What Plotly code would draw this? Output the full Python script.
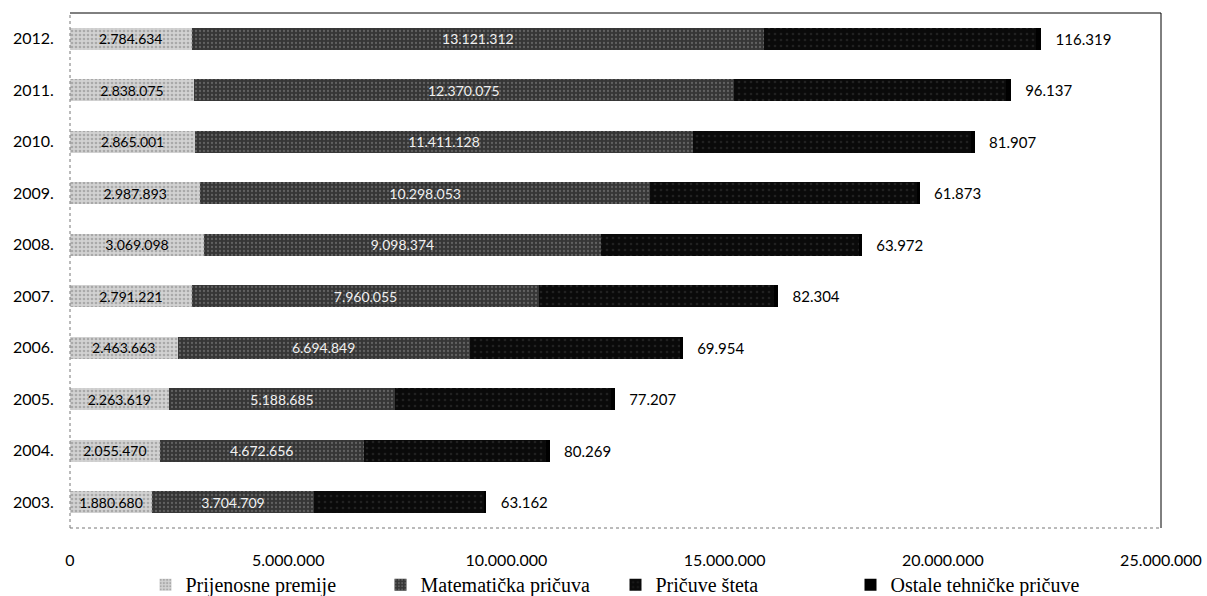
import plotly.graph_objects as go

years = ["2003.", "2004.", "2005.", "2006.", "2007.", "2008.", "2009.", "2010.", "2011.", "2012."]
prijenosne_premije = [1880680, 2055470, 2263619, 2463663, 2791221, 3069098, 2987893, 2865001, 2838075, 2784634]
matematicka_pricuva = [3704709, 4672656, 5188685, 6694849, 7960055, 9098374, 10298053, 11411128, 12370075, 13121312]
pricuve_steta = [3890000, 4180000, 4950000, 4810000, 5390000, 5910000, 6120000, 6370000, 6250000, 6230000]
ostale_tehnicke = [63162, 80269, 77207, 69954, 82304, 63972, 61873, 81907, 96137, 116319]
x_ticks = [0, 5000000, 10000000, 15000000, 20000000, 25000000]

sans = "Lato, 'Open Sans', sans-serif"
serif = "'Liberation Serif', 'Times New Roman', serif"

fig = go.Figure()
fig.add_trace(go.Bar(
    y=years, x=prijenosne_premije, orientation="h", name="Prijenosne premije",
    marker=dict(color="#d2d2d2", line=dict(width=0),
                pattern=dict(shape=".", fgcolor="#808080", size=4, solidity=0.35)),
    texttemplate="%{x:,d}", textposition="inside", insidetextanchor="middle",
    textfont=dict(family=sans, size=14, color="#000000"),
))
fig.add_trace(go.Bar(
    y=years, x=matematicka_pricuva, orientation="h", name="Matematička pričuva",
    marker=dict(color="#363636", line=dict(width=0),
                pattern=dict(shape=".", fgcolor="#8c8c8c", size=4, solidity=0.25)),
    texttemplate="%{x:,d}", textposition="inside", insidetextanchor="middle",
    textfont=dict(family=sans, size=14, color="#f0f0f0"),
))
fig.add_trace(go.Bar(
    y=years, x=pricuve_steta, orientation="h", name="Pričuve šteta",
    marker=dict(color="#0a0a0a", line=dict(width=0),
                pattern=dict(shape=".", fgcolor="#383838", size=6, solidity=0.15)),
    textposition="none",
))
fig.add_trace(go.Bar(
    y=years, x=ostale_tehnicke, orientation="h", name="Ostale tehničke pričuve",
    marker=dict(color="#000000", line=dict(width=0)),
    texttemplate="\u00a0\u00a0\u00a0%{x:,d}", textposition="outside",
    textfont=dict(family=sans, size=15, color="#000000"),
    cliponaxis=False,
))

frame = [
    dict(x0=0, x1=1, y0=1, y1=1, dash="solid", color="#000000"),
    dict(x0=1, x1=1, y0=0, y1=1, dash="solid", color="#000000"),
    dict(x0=0, x1=0, y0=0, y1=1, dash="dot", color="#777777"),
    dict(x0=0, x1=1, y0=0, y1=0, dash="dot", color="#777777"),
]
shapes = [
    dict(type="line", xref="paper", yref="paper", x0=f["x0"], x1=f["x1"], y0=f["y0"], y1=f["y1"],
         line=dict(color=f["color"], width=1, dash=f["dash"]), layer="above")
    for f in frame
]

fig.update_layout(
    barmode="stack",
    bargap=0.58,
    width=1207, height=596,
    margin=dict(l=70, r=46, t=13, b=68, autoexpand=False),
    paper_bgcolor="white", plot_bgcolor="white",
    separators=",.",
    uniformtext=dict(mode="show", minsize=14),
    showlegend=True,
    legend=dict(orientation="h", x=0.5, xanchor="center", y=-0.11, yanchor="middle",
                font=dict(family=serif, size=20, color="#000000"),
                bgcolor="rgba(0,0,0,0)",
                entrywidth=190, entrywidthmode="pixels",
                traceorder="normal", itemsizing="constant"),
    shapes=shapes,
    xaxis=dict(range=[0, 25000000], tickvals=x_ticks, tickformat=",d",
               showgrid=False, zeroline=False, automargin=False, showline=False,
               ticks="outside", ticklen=18, tickcolor="rgba(0,0,0,0)",
               tickfont=dict(family=sans, size=16, color="#000000")),
    yaxis=dict(categoryorder="array", categoryarray=years,
               showgrid=False, zeroline=False, automargin=False, showline=False,
               ticks="outside", ticklen=12, tickcolor="rgba(0,0,0,0)",
               tickfont=dict(family=sans, size=16, color="#000000")),
)

fig.write_html(
    "out.html",
    config={"displayModeBar": False},
    post_script="document.body.style.margin='0';document.body.style.overflow='hidden';",
)
